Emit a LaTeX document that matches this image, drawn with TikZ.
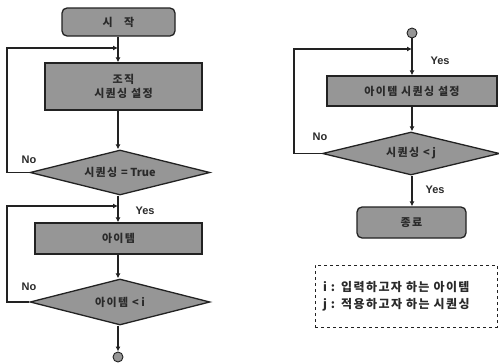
\documentclass[tikz,border=0pt]{standalone}
\usepackage{fontspec}
\setmainfont{Noto Sans CJK KR}
\newfontfamily\latinbold{Liberation Sans}[BoldFont={* Bold}]
\usetikzlibrary{shapes.geometric,arrows.meta}
\definecolor{boxfill}{HTML}{969696}
\definecolor{linec}{HTML}{222222}
\definecolor{txtc}{HTML}{2A2A2A}
\newcommand{\nols}[1]{{\addfontfeatures{LetterSpace=0}#1}}
\tikzset{
  shapebase/.style={draw=linec,line width=1.3pt,fill=boxfill,text=txtc,font=\bfseries\fontsize{11}{14}\selectfont\addfontfeatures{LetterSpace=12},inner sep=0pt,align=center},
  procbox/.style={shapebase,rectangle},
  termbox/.style={shapebase,rectangle,rounded corners=5pt},
  decbox/.style={shapebase,diamond,shape aspect=4},
  connc/.style={shapebase,circle,minimum size=10pt,line width=0.9pt},
  arr/.style={draw=linec,line width=1.1pt,-{Latex[length=5pt,width=5pt]}},
  ln/.style={draw=linec,line width=1.1pt},
  lbl/.style={font=\latinbold\bfseries\fontsize{11}{13}\selectfont,text=txtc,inner sep=0pt},
  legend/.style={draw=linec,line width=0.9pt,dashed,text=txtc,align=left,font=\bfseries\fontsize{12}{17}\selectfont\addfontfeatures{LetterSpace=12},inner sep=0pt}
}
\begin{document}
\begin{tikzpicture}[x=1pt,y=-1pt]
\useasboundingbox (0,0) rectangle (499,364);
% left column
\node[termbox,minimum width=113pt,minimum height=28pt] (start) at (118.5,22) {시\ \ \ 작};
\node[procbox,minimum width=157pt,minimum height=47pt] (b1) at (123.5,86.5) {조직\\시퀀싱 설정};
\node[decbox,minimum width=180pt,minimum height=45pt] (d1) at (120,172.5) {시퀀싱 \nols{= True}};
\node[procbox,minimum width=167pt,minimum height=31pt] (b2) at (118.5,238.5) {아이템};
\node[decbox,minimum width=180pt,minimum height=46pt] (d2) at (120,302) {아이템 \nols{< i}};
\node[connc] (c1) at (118,357) {};
\coordinate (j1) at (118,48);
\coordinate (j2) at (118,206);
\draw[ln] (start.south -| j1) -- (j1);
\draw[arr] (j1) -- (j1 |- b1.north);
\draw[arr] (b1.south -| j1) -- (j1 |- d1.north);
\draw[ln] (j1 |- d1.south) -- (j2);
\draw[arr] (j2) -- (j2 |- b2.north);
\draw[arr] (b2.south -| j2) -- (j2 |- d2.north);
\draw[arr] (j2 |- d2.south) -- (c1.north);
\draw[arr] (d1.west) -- (7,172.5) -- (7,48) -- (j1);
\draw[arr] (d2.west) -- (7,302) -- (7,206) -- (j2);
\node[lbl] (no1) at (29,160) {No};
\node[lbl] (no2) at (29,287) {No};
\node[lbl] (yes1) at (145,211) {Yes};
% right column
\node[connc] (c2) at (412,33) {};
\node[procbox,minimum width=170pt,minimum height=30pt] (b3) at (412,91) {아이템 시퀀싱 설정};
\node[decbox,minimum width=177pt,minimum height=43pt] (d3) at (411,153.5) {시퀀싱 \nols{< j}};
\node[termbox,minimum width=109pt,minimum height=31pt] (end) at (411.5,222.5) {종료};
\coordinate (j3) at (412,49);
\draw[ln] (c2.south) -- (j3);
\draw[arr] (j3) -- (j3 |- b3.north);
\draw[arr] (b3.south -| j3) -- (j3 |- d3.north);
\draw[arr] (j3 |- d3.south) -- (j3 |- end.north);
\draw[arr] (d3.west) -- (294,153.5) -- (294,49) -- (j3);
\node[lbl] (no3) at (320,137) {No};
\node[lbl] (yes2) at (440,61) {Yes};
\node[lbl] (yes3) at (435,190) {Yes};
% legend
\node[legend,minimum width=182pt,minimum height=62pt,text width=166pt] (leg) at (406,296) {i : 입력하고자 하는 아이템\\j : 적용하고자 하는 시퀀싱};
\end{tikzpicture}
\end{document}
